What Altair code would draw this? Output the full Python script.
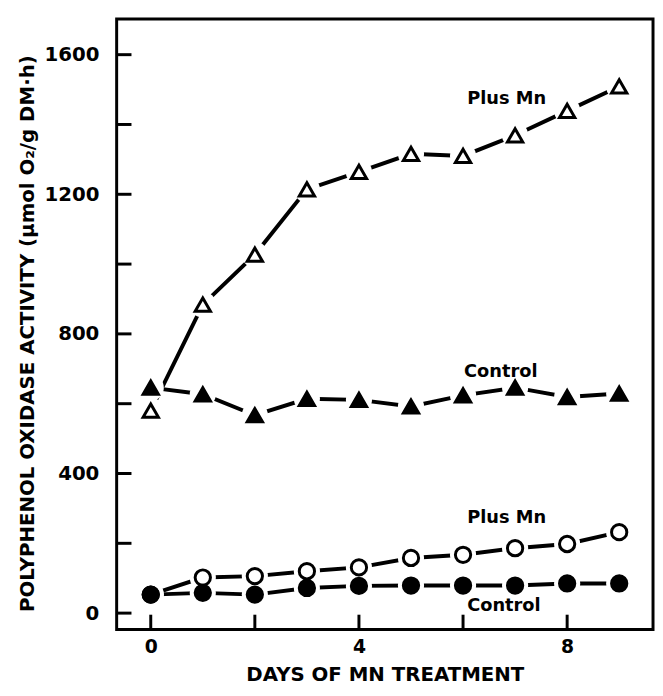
import altair as alt
import pandas as pd

days = [0, 1, 2, 3, 4, 5, 6, 7, 8, 9]
plus_mn_tri = [580, 884, 1027, 1214, 1264, 1316, 1310, 1369, 1439, 1509]
control_tri = [646, 627, 567, 614, 611, 592, 624, 646, 619, 629]
plus_mn_circ = [53, 102, 106, 120, 131, 158, 167, 186, 198, 232]
control_circ = [53, 58, 53, 72, 78, 79, 79, 79, 85, 85]

series_names = ["Plus Mn (tri)", "Control (tri)", "Plus Mn (circ)", "Control (circ)"]
series_vals = [plus_mn_tri, control_tri, plus_mn_circ, control_circ]
series_shape = ["triangle-up", "triangle-up", "circle", "circle"]
series_fill = ["white", "black", "white", "black"]

label_text = ["Plus Mn", "Control", "Plus Mn", "Control"]
label_day = [6.08, 6.02, 6.08, 6.08]
label_val = [1472, 690, 272, 20]

y_tick_vals = [0, 200, 400, 600, 800, 1000, 1200, 1400, 1600]
x_tick_vals = [0, 2, 4, 6, 8]
y_label_vals = [0, 400, 800, 1200, 1600]
x_label_vals = [0, 4, 8]

rows = []
for name, vals, shp, fc in zip(series_names, series_vals, series_shape, series_fill):
    for d, v in zip(days, vals):
        rows.append({"day": d, "value": v, "series": name, "shape": shp, "fillc": fc})
df = pd.DataFrame(rows)
labels_df = pd.DataFrame({"day": label_day, "value": label_val, "text": label_text})
yt_df = pd.DataFrame({"value": y_tick_vals})
xt_df = pd.DataFrame({"day": x_tick_vals})

FONT = "DejaVu Sans"
W, H = 543, 618

xscale = alt.Scale(domain=[-0.655, 9.65], nice=False, zero=False)
yscale = alt.Scale(domain=[-47, 1702], nice=False, zero=False)

xenc = alt.X("day:Q", scale=xscale,
             axis=alt.Axis(values=x_label_vals, domain=False, ticks=False, grid=False,
                           format="d",
                           labelFont=FONT, labelFontSize=19, labelFontWeight="bold",
                           labelColor="black", labelPadding=8,
                           title="DAYS OF MN TREATMENT", titleFont=FONT, titleFontSize=20,
                           titleFontWeight="bold", titleColor="black", titlePadding=9))
yenc = alt.Y("value:Q", scale=yscale,
             axis=alt.Axis(values=y_label_vals, domain=False, ticks=False, grid=False,
                           format="d",
                           labelFont=FONT, labelFontSize=20, labelFontWeight="bold",
                           labelColor="black", labelPadding=18,
                           title="POLYPHENOL OXIDASE ACTIVITY (μmol O₂/g DM·h)",
                           titleFont=FONT, titleFontSize=20, titleFontWeight="bold",
                           titleColor="black", titleX=-90, titleY=318,
                           titleAngle=270, titleBaseline="middle", titleAlign="center"))

lines = alt.Chart(df).mark_line(color="black", strokeWidth=4).encode(
    x=xenc, y=yenc, detail="series:N")

halos = alt.Chart(df).mark_point(filled=True, color="white", opacity=1, shape="circle",
                                 size=700).encode(x="day:Q", y="value:Q")

markers = alt.Chart(df).mark_point(opacity=1, stroke="black", strokeWidth=3,
                                   size=240, filled=True).encode(
    x="day:Q", y="value:Q",
    shape=alt.Shape("shape:N", scale=None),
    fill=alt.Fill("fillc:N", scale=None))

yticks = alt.Chart(yt_df).mark_rule(color="black", strokeWidth=3).encode(
    y="value:Q", x=alt.value(0), x2=alt.value(15))
xticks = alt.Chart(xt_df).mark_rule(color="black", strokeWidth=3).encode(
    x="day:Q", y=alt.value(H), y2=alt.value(H - 15))

texts = alt.Chart(labels_df).mark_text(align="left", baseline="middle", font=FONT,
                                       fontSize=18, fontWeight="bold", color="black").encode(
    x="day:Q", y="value:Q", text="text:N")

chart = alt.layer(lines, halos, markers, yticks, xticks, texts).properties(
    width=W, height=H,
    autosize=alt.AutoSizeParams(type="none"),
    padding={"left": 110, "top": 7, "right": 2, "bottom": 55},
).configure(background="white").configure_view(stroke="black", strokeWidth=3)

chart.save("out.html", embed_options={"renderer": "svg", "actions": False})
